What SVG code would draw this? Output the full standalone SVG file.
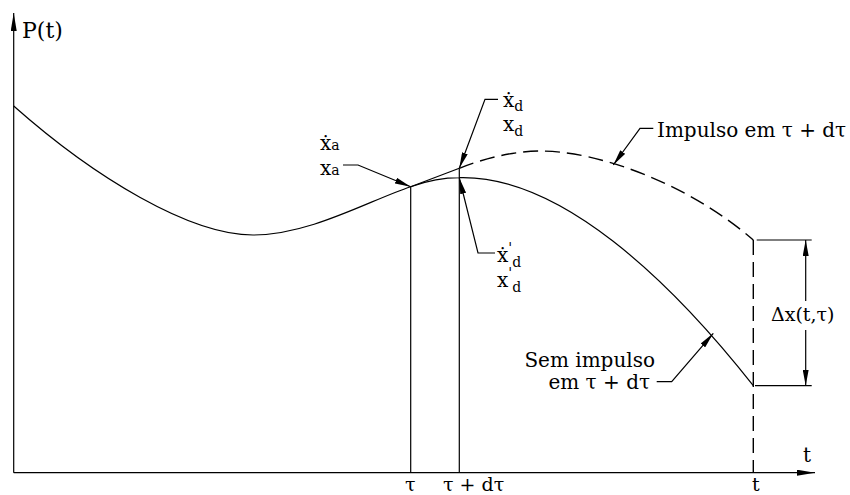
<svg xmlns="http://www.w3.org/2000/svg" width="850" height="495" viewBox="0 0 850 495">
<style>
.ln{fill:none;stroke:#000;stroke-width:1.2}
.dash{fill:none;stroke:#000;stroke-width:1.4;stroke-dasharray:15 7}
.t{font-family:"DejaVu Serif","Liberation Serif",serif;font-size:20px;fill:#000}
.s{font-size:14px}
</style>
<defs>
<marker id="ar" viewBox="0 0 16 6" refX="16" refY="3" markerWidth="16" markerHeight="6" markerUnits="userSpaceOnUse" orient="auto">
<path d="M0,0 L16,3 L0,6 z" fill="#000"/>
</marker>
<marker id="ax" viewBox="0 0 18 6" refX="18" refY="3" markerWidth="18" markerHeight="6" markerUnits="userSpaceOnUse" orient="auto">
<path d="M0,0 L18,3 L0,6 z" fill="#000"/>
</marker>
</defs>

<g id="axes">
<line class="ln" x1="13.7" y1="472.7" x2="13.7" y2="13" marker-end="url(#ax)"/>
<line class="ln" x1="13.7" y1="472.7" x2="815" y2="472.7" marker-end="url(#ax)"/>
<text class="t" x="22" y="38" style="font-size:22px">P(t)</text>
<text class="t" x="803" y="462">t</text>
<text class="t" x="405" y="491" style="font-size:19px">τ</text>
<text class="t" x="443" y="491" style="font-size:19px">τ + dτ</text>
<text class="t" x="752" y="491" style="font-size:19px">t</text>
</g>

<g id="curves">
<path class="ln" d="M13.7,106 C95,178 190,235 253,235 C310,235 370,200 410.7,186.7"/>
<path class="ln" d="M410.7,186.7 C430,180 445,177.7 459.3,177.7 C560,175 670,280 753.3,385.7"/>
<line class="ln" x1="410.7" y1="186.7" x2="459.3" y2="168.3"/>
<path class="dash" d="M459.3,168.3 C485,158 515,151 540,151 C600,151 690,185 753.3,240"/>
<line class="ln" x1="410.7" y1="186.7" x2="410.7" y2="472.7"/>
<line class="ln" x1="459.3" y1="168.3" x2="459.3" y2="472.7"/>
<line class="dash" x1="753.3" y1="240" x2="753.3" y2="472.7"/>
</g>

<g id="dimension">
<line class="ln" x1="756.7" y1="240" x2="811.7" y2="240"/>
<line class="ln" x1="755" y1="385.7" x2="811.7" y2="385.7"/>
<line class="ln" x1="805.7" y1="301" x2="805.7" y2="240" marker-end="url(#ar)"/>
<line class="ln" x1="805.7" y1="330" x2="805.7" y2="385.7" marker-end="url(#ar)"/>
<text class="t" x="771" y="320.7" style="font-size:19px">Δx(t,τ)</text>
</g>

<g id="connectors">
<polyline class="ln" points="343,165 358,165 410.7,186.7" marker-end="url(#ar)"/>
<polyline class="ln" points="498,99.3 485,99.3 459.3,168.3" marker-end="url(#ar)"/>
<polyline class="ln" points="495,253 478,253 459.3,178" marker-end="url(#ar)"/>
<polyline class="ln" points="653.3,128.3 640,128.3 613.3,165" marker-end="url(#ar)"/>
<polyline class="ln" points="656.7,381.7 671.7,381.7 713.3,333.3" marker-end="url(#ar)"/>
</g>

<g id="label-xa">
<text class="t" x="320" y="150">ẋ<tspan class="s">a</tspan></text>
<text class="t" x="320" y="175">x<tspan class="s">a</tspan></text>
</g>
<g id="label-xd">
<text class="t" x="503" y="107">ẋ<tspan class="s" dy="4">d</tspan></text>
<text class="t" x="503" y="131">x<tspan class="s" dy="5">d</tspan></text>
</g>
<g id="label-xpd">
<text class="t" x="497" y="262">ẋ<tspan class="s" dy="-9">'</tspan><tspan class="s" dy="14">d</tspan></text>
<text class="t" x="497" y="287">x<tspan class="s" dy="-9">'</tspan><tspan class="s" dy="14">d</tspan></text>
</g>
<g id="label-impulso">
<text class="t" x="657" y="136.5">Impulso em τ + dτ</text>
</g>
<g id="label-sem">
<text class="t" x="655" y="366.7" text-anchor="end">Sem impulso</text>
<text class="t" x="650" y="389" text-anchor="end">em τ + dτ</text>
</g>
</svg>
